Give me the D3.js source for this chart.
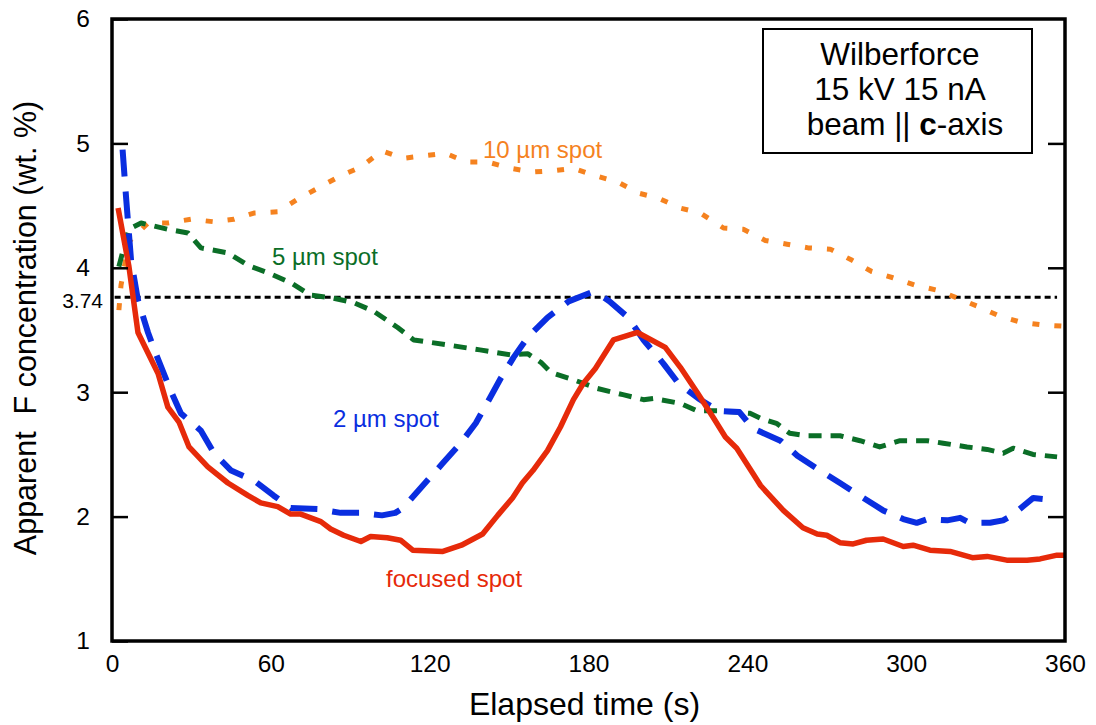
<!DOCTYPE html>
<html>
<head>
<meta charset="utf-8">
<script src="https://cdn.jsdelivr.net/npm/d3@7"></script>
<style>
  body { margin: 0; background: #fff; }
  svg { display: block; font-family: "Liberation Sans", Arial, sans-serif; }
</style>
</head>
<body>
<div id="chart"></div>
<script>

// elapsed time (s), apparent F (wt. %)
var focusedSpot = [[2.3,4.48],[6.4,4.01],[9.8,3.48],[17.4,3.15],[21.1,2.88],[25.3,2.76],[29.1,2.56],[36.2,2.40],
  [43.8,2.27],[51.3,2.17],[56.2,2.11],[62.6,2.08],[67.5,2.02],[71.3,2.02],[78.9,1.96],[82.6,1.90],[87.5,1.85],
  [94,1.80],[97.7,1.84],[104,1.83],[109,1.81],[113.6,1.73],[125,1.72],[132,1.77],[140,1.86],[145.7,2.01],
  [151.3,2.15],[155,2.27],[159,2.37],[164.5,2.53],[169.4,2.72],[174.3,2.94],[178,3.07],[182.6,3.19],[189.4,3.42],
  [198.5,3.48],[202,3.44],[209,3.36],[214.7,3.20],[221,3.00],[227,2.80],[231.7,2.64],[236,2.55],[242,2.35],
  [245,2.25],[253.6,2.05],[261,1.91],[266.4,1.86],[270,1.85],[275,1.79],[280,1.78],[285,1.81],[291.3,1.82],
  [298.9,1.76],[302.6,1.77],[309,1.73],[316.6,1.72],[325,1.67],[330.6,1.68],[338,1.65],[345.7,1.65],
  [350.6,1.66],[357,1.69],[360,1.69]];

var spot2 = [[4,4.95],[5.3,4.57],[7.2,4.06],[9.8,3.74],[13.6,3.48],[16,3.34],[22,3.02],[26,2.83],[30.5,2.75],
  [33.6,2.69],[38.5,2.51],[45,2.37],[53.6,2.29],[61,2.17],[67.5,2.07],[77.7,2.06],[86.4,2.03],[94,2.03],
  [102,2.01],[107,2.03],[110,2.07],[116.6,2.23],[125,2.43],[131.7,2.59],[137.4,2.75],[141.9,2.92],[146.8,3.11],
  [151.7,3.28],[157,3.44],[164.5,3.60],[172.5,3.73],[180.8,3.80],[184.5,3.78],[188,3.73],[195,3.60],[200.8,3.42],
  [208.3,3.23],[214,3.07],[221.5,2.95],[229,2.85],[237,2.84],[242,2.71],[252.5,2.61],[258.9,2.49],[267.5,2.37],
  [275,2.27],[283.8,2.15],[291.3,2.05],[298.9,1.98],[304,1.95],[308,1.98],[315.5,1.97],[320.4,1.99],[324,1.95],
  [331.7,1.95],[336.6,1.97],[340,2.01],[348,2.15],[357,2.13]];

var spot5 = [[2.6,4.01],[5.3,4.23],[6.4,4.31],[11,4.36],[21,4.31],[28.7,4.28],[33.6,4.16],[43.8,4.12],[51.3,4.02],
  [58.9,3.96],[67.5,3.88],[75,3.78],[82.6,3.76],[91.3,3.72],[98.9,3.65],[107.9,3.52],[114,3.42],[126.8,3.38],
  [139,3.34],[150.6,3.30],[157,3.31],[162,3.24],[165.7,3.16],[174.3,3.10],[183.4,3.03],[193,2.98],[200.8,2.94],
  [204.5,2.95],[214.7,2.91],[221,2.85],[228.7,2.85],[236,2.84],[241,2.83],[245,2.79],[251,2.75],[256,2.67],
  [262.6,2.65],[275,2.65],[282.6,2.61],[290,2.56],[297.7,2.61],[308,2.61],[314,2.59],[323,2.56],[330.6,2.54],
  [336.6,2.51],[340.4,2.55],[347.9,2.50],[357,2.48]];

var spot10 = [[2.6,3.66],[3.4,3.86],[6.4,4.21],[13.6,4.36],[21,4.36],[29.8,4.39],[38.5,4.37],[46,4.39],[53.6,4.44],
  [62.6,4.45],[70,4.55],[77.7,4.64],[86.4,4.74],[94,4.81],[102,4.94],[109.8,4.88],[117.7,4.90],[126,4.92],
  [134,4.85],[141.9,4.85],[150.6,4.80],[158.9,4.77],[166.4,4.78],[174.3,4.80],[182.6,4.74],[191,4.69],
  [198.9,4.60],[206.4,4.56],[214.7,4.48],[222.3,4.44],[231,4.32],[238.5,4.31],[246.8,4.22],[255,4.19],
  [263,4.16],[271.3,4.15],[279.6,4.06],[287,3.97],[295,3.92],[303.4,3.86],[311.7,3.82],[319,3.76],[327,3.69],
  [335.5,3.61],[343.8,3.56],[351.7,3.54],[360,3.53]];

var xTicks = [0, 60, 120, 180, 240, 300, 360];
var yTicks = [1, 2, 3, 4, 5, 6];
var refValue = 3.74;
var boxLines = ["Wilberforce", "15 kV 15 nA"];

var width = 1096, height = 725;

var svg = d3.select("#chart").append("svg")
    .attr("width", width)
    .attr("height", height);

var x = d3.scaleLinear().domain([0, 360]).range([112, 1065]);
var y = d3.scaleLinear().domain([1, 6]).range([641, 19]);

var line = d3.line()
    .x(function(d){ return x(d[0]); })
    .y(function(d){ return y(d[1]); });

//reference line (drawn a touch above its value, as in the figure)
svg.append("line")
    .attr("x1", x(1)).attr("x2", x(357))
    .attr("y1", y(refValue) - 3).attr("y2", y(refValue) - 3)
    .style("stroke", "#000")
    .style("stroke-width", 3)
    .style("stroke-dasharray", "6,4");

svg.append("text")
    .attr("x", 103)
    .attr("y", y(refValue))
    .attr("dy", "0.36em")
    .attr("text-anchor", "end")
    .style("font-size", "21px")
    .text(refValue.toFixed(2));

//series
var series = [
    {data: spot10, color: "#f5821f", width: 5, dash: "7,15"},
    {data: spot5, color: "#0b6e27", width: 5, dash: "13,9"},
    {data: spot2, color: "#0a2ee0", width: 6, dash: "27,15"},
    {data: focusedSpot, color: "#e62a0a", width: 5.5, dash: null}
];

series.forEach(function(s){
    svg.append("path")
        .datum(s.data)
        .attr("d", line)
        .style("fill", "none")
        .style("stroke", s.color)
        .style("stroke-width", s.width)
        .style("stroke-linejoin", "round")
        .style("stroke-dasharray", s.dash);
});

//series labels
var labels = [
    {text: "10 \u00b5m spot", x: 483, y: 158, color: "#f5821f"},
    {text: "5 \u00b5m spot", x: 272, y: 265, color: "#0b6e27"},
    {text: "2 \u00b5m spot", x: 333, y: 427, color: "#0a2ee0"},
    {text: "focused spot", x: 386, y: 587, color: "#e62a0a"}
];

svg.selectAll(".series-label").data(labels).enter()
    .append("text")
    .attr("class", "series-label")
    .attr("x", function(d){ return d.x; })
    .attr("y", function(d){ return d.y; })
    .style("font-size", "24px")
    .style("fill", function(d){ return d.color; })
    .text(function(d){ return d.text; });

//axes
var yAxis = svg.append("g")
    .attr("transform", "translate(" + x(0) + ",0)")
    .call(d3.axisLeft(y).tickValues(yTicks).tickSize(-16).tickPadding(22).tickFormat(d3.format("d")));

var yAxisRight = svg.append("g")
    .attr("transform", "translate(" + x(360) + ",0)")
    .call(d3.axisRight(y).tickValues([2, 3, 4, 5]).tickSize(-17).tickFormat(""));

var xAxis = svg.append("g")
    .attr("transform", "translate(0," + y(1) + ")")
    .call(d3.axisBottom(x).tickValues(xTicks).tickSize(0).tickPadding(14));

[yAxis, yAxisRight, xAxis].forEach(function(g){
    g.select(".domain").remove();
    g.selectAll(".tick line").style("stroke", "#000").style("stroke-width", 2.5);
    g.selectAll(".tick text")
        .style("font-family", "\"Liberation Sans\", Arial, sans-serif")
        .style("font-size", "24.5px")
        .style("fill", "#000");
});

//frame
svg.append("rect")
    .attr("x", x(0)).attr("y", y(6))
    .attr("width", x(360) - x(0))
    .attr("height", y(1) - y(6))
    .style("fill", "none")
    .style("stroke", "#000")
    .style("stroke-width", 3.5);

//axis titles
svg.append("text")
    .attr("x", (x(0) + x(360)) / 2 - 4)
    .attr("y", 715)
    .attr("text-anchor", "middle")
    .style("font-size", "32px")
    .text("Elapsed time (s)");

svg.append("text")
    .attr("transform", "translate(36,328) rotate(-90)")
    .attr("text-anchor", "middle")
    .style("font-size", "30.5px")
    .style("white-space", "pre")
    .text("Apparent  F concentration (wt. %)");

//info box
svg.append("rect")
    .attr("x", 763).attr("y", 29)
    .attr("width", 269).attr("height", 124)
    .style("fill", "#fff")
    .style("stroke", "#000")
    .style("stroke-width", 2);

boxLines.forEach(function(t, i){
    svg.append("text")
        .attr("x", 900)
        .attr("y", 65 + i * 35)
        .attr("text-anchor", "middle")
        .style("font-size", "31.5px")
        .text(t);
});

var third = svg.append("text")
    .attr("x", 905)
    .attr("y", 135)
    .attr("text-anchor", "middle")
    .style("font-size", "31.5px");
third.append("tspan").text("beam || ");
third.append("tspan").style("font-weight", "bold").text("c");
third.append("tspan").text("-axis");

</script>
</body>
</html>
